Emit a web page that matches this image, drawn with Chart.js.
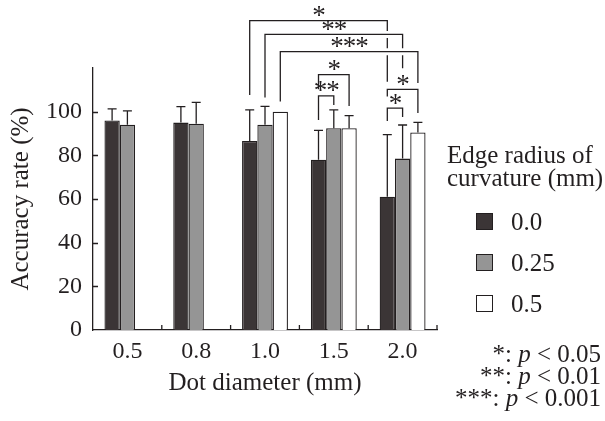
<!DOCTYPE html>
<html>
<head>
<meta charset="utf-8">
<script src="https://cdn.jsdelivr.net/npm/chart.js@4.4.1/dist/chart.umd.min.js"></script>
<style>
  body { margin: 0; background: #fff; }
  #wrap { position: relative; width: 605px; height: 421px; font-family: "Liberation Serif", serif; color: #231f20; }
  #legend { position: absolute; left: 447px; top: 143px; font-size: 25px; }
  #legend .title { line-height: 23px; margin-bottom: 12px; }
  #legend .row { height: 41px; line-height: 41px; display: flex; align-items: center; }
  #legend .box { width: 15px; height: 15px; border: 1.5px solid #231f20; margin-left: 29px; margin-right: 18px; }
  #notes { position: absolute; right: 4px; top: 343px; font-size: 25px; line-height: 22px; text-align: right; }
</style>
</head>
<body>
<div id="wrap">
  <canvas id="grafico" width="605" height="421"></canvas>
  <div id="legend"></div>
  <div id="notes">
    <div>*: <i>p</i> &lt; 0.05</div>
    <div>**: <i>p</i> &lt; 0.01</div>
    <div>***: <i>p</i> &lt; 0.001</div>
  </div>
</div>
<script>
// dot diameters (mm) on the x axis
const diameters = ['0.5', '0.8', '1.0', '1.5', '2.0'];
// edge radius of curvature (mm), one series each
const radii = ['0.0', '0.25', '0.5'];

// mean accuracy rate (%)
const acc00 = [96, 95, 86.6, 78, 61];
const acc025 = [94, 94.5, 94, 92.4, 78.5];
const acc05 = [null, null, 100, 92.4, 90.5];

// standard deviation (upper whisker only)
const sd00 = [5.3, 7.3, 14.2, 13.4, 28.5];
const sd025 = [6.4, 9.8, 8.4, 8.4, 15.4];
const sd05 = [null, null, 0, 5.8, 4.6];

const yTicks = [0, 20, 40, 60, 80, 100];

// significance brackets: [category, series] pairs, bracket height and leg ends in %
const sigPairs = [
  { label: '*',   a: [2, 0], b: [4, 0], level: 141.7, endA: 107.6, endB: 113.7 },
  { label: '**',  a: [2, 1], b: [4, 1], level: 135.4, endA: 106.5, endB: 119.9 },
  { label: '***', a: [2, 2], b: [4, 2], level: 127.5, endA: 104.7, endB: 113.1 },
  { label: '*',   a: [3, 0], b: [3, 2], level: 117.0, endA: 110.3, endB: 102.6 },
  { label: '**',  a: [3, 0], b: [3, 1], level: 107.2, endA: 96.2,  endB: 103.1 },
  { label: '*',   a: [4, 0], b: [4, 2], level: 110.2, endA: 107.0, endB: 99.4 },
  { label: '*',   a: [4, 0], b: [4, 1], level: 101.6, endA: 95.7,  endB: 97.6 }
];

const ink = '#231f20';
const colores = ['#3b3536', '#959595', '#ffffff'];
const sdSeries = [sd00, sd025, sd05];
const fuente = '"Liberation Serif", serif';

const extras = {
  id: 'extras',
  afterDatasetsDraw(chart) {
    const ctx = chart.ctx;
    const y = chart.scales.y;
    const x = chart.scales.x;
    const area = chart.chartArea;
    ctx.save();
    ctx.strokeStyle = ink;
    ctx.lineCap = 'butt';

    // inward tick marks
    ctx.lineWidth = 1.3;
    ctx.beginPath();
    yTicks.forEach(v => {
      if (v === 0) return;
      const py = Math.round(y.getPixelForValue(v)) + 0.5;
      ctx.moveTo(area.left, py);
      ctx.lineTo(area.left + 5, py);
    });
    for (let k = 1; k <= diameters.length; k++) {
      const px = x.getPixelForValue(k - 0.5);
      ctx.moveTo(px, area.bottom);
      ctx.lineTo(px, area.bottom - 5);
    }
    ctx.stroke();

    // error bars
    ctx.lineWidth = 1.3;
    chart.data.datasets.forEach((ds, i) => {
      const meta = chart.getDatasetMeta(i);
      ds.data.forEach((val, j) => {
        const sd = sdSeries[i][j];
        if (val === null || !sd) return;
        const bx = meta.data[j].x;
        const top = y.getPixelForValue(val);
        const end = y.getPixelForValue(val + sd);
        ctx.beginPath();
        ctx.moveTo(bx, top);
        ctx.lineTo(bx, end);
        ctx.moveTo(bx - 4.5, end);
        ctx.lineTo(bx + 4.5, end);
        ctx.stroke();
      });
    });

    // significance brackets
    ctx.font = '27px ' + fuente;
    ctx.textAlign = 'center';
    ctx.fillStyle = ink;
    ctx.letterSpacing = '-1px';
    sigPairs.forEach(p => {
      const x1 = chart.getDatasetMeta(p.a[1]).data[p.a[0]].x;
      const x2 = chart.getDatasetMeta(p.b[1]).data[p.b[0]].x;
      const yl = y.getPixelForValue(p.level);
      ctx.strokeStyle = '#ffffff';
      ctx.lineWidth = 7;
      ctx.beginPath();
      ctx.moveTo(x1 + 4, yl);
      ctx.lineTo(x2 - 4, yl);
      ctx.stroke();
      ctx.strokeStyle = ink;
      ctx.lineWidth = 1.3;
      ctx.beginPath();
      ctx.moveTo(x1, y.getPixelForValue(p.endA));
      ctx.lineTo(x1, yl);
      ctx.lineTo(x2, yl);
      ctx.lineTo(x2, y.getPixelForValue(p.endB));
      ctx.stroke();
      const m = ctx.measureText(p.label);
      const cy = yl - 9;
      ctx.fillText(p.label, (x1 + x2) / 2, cy + (m.actualBoundingBoxAscent - m.actualBoundingBoxDescent) / 2);
    });
    ctx.restore();
  }
};

const ctx = document.getElementById('grafico').getContext('2d');

const myChart = new Chart(ctx, {
  type: 'bar',
  data: {
    labels: diameters,
    datasets: [acc00, acc025, acc05].map((serie, i) => ({
      label: radii[i],
      data: serie,
      backgroundColor: colores[i],
      borderColor: ink,
      borderWidth: 1.3,
      barPercentage: 1.0,
      categoryPercentage: 0.667
    }))
  },
  options: {
    responsive: false,
    devicePixelRatio: 1,
    animation: false,
    layout: { padding: { top: 68, right: 168, bottom: 25, left: 0 } },
    plugins: { legend: { display: false }, tooltip: { enabled: false } },
    scales: {
      x: {
        grid: { display: false, drawTicks: false },
        border: { display: true, color: ink, width: 1.3 },
        ticks: { color: ink, padding: 10, font: { family: fuente, size: 24, lineHeight: 1 } },
        title: {
          display: true, text: 'Dot diameter (mm)', color: ink,
          font: { family: fuente, size: 25, lineHeight: 1 }, padding: { top: -3, bottom: 0 }
        }
      },
      y: {
        min: 0, max: 120,
        grid: { display: false, drawTicks: false },
        border: { display: true, color: ink, width: 1.3 },
        ticks: {
          stepSize: 20, color: ink, padding: 11,
          font: { family: fuente, size: 24, lineHeight: 1 },
          callback: v => yTicks.includes(v) ? v : ''
        },
        title: {
          display: true, text: 'Accuracy rate (%)', color: ink,
          font: { family: fuente, size: 25, lineHeight: 1 }, padding: { top: 8.5, bottom: 1.5 }
        }
      }
    }
  },
  plugins: [extras]
});

// html legend built from the datasets
const legend = document.getElementById('legend');
let html = '<div class="title">Edge radius of<br>curvature (mm)</div>';
myChart.data.datasets.forEach(ds => {
  html += `<div class="row"><span class="box" style="background:${ds.backgroundColor}"></span>${ds.label}</div>`;
});
legend.innerHTML = html;
</script>
</body>
</html>
